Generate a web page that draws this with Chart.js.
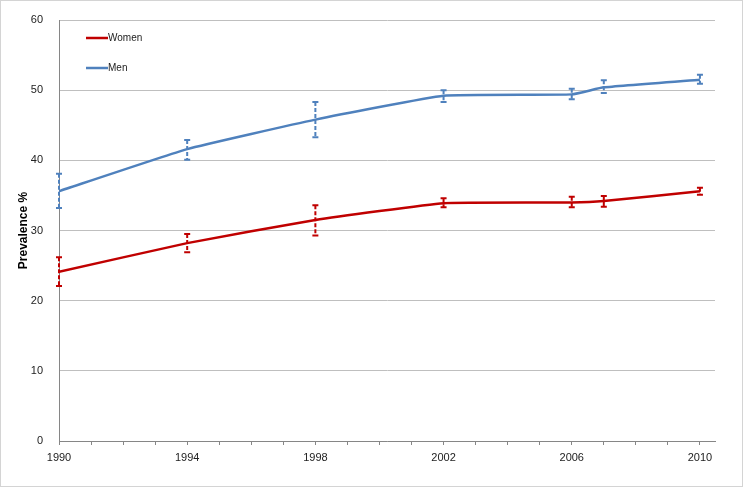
<!DOCTYPE html>
<html>
<head>
<meta charset="utf-8">
<script src="https://cdn.jsdelivr.net/npm/chart.js@4.4.1/dist/chart.umd.min.js"></script>
<style>
  html, body { margin: 0; padding: 0; background: #fff; }
  #wrap { position: relative; width: 741px; height: 485px; border: 1px solid #d4d4d4; }
</style>
</head>
<body>
<div id="wrap"><canvas id="c" width="741" height="485"></canvas></div>
<script>
const years      = [1990, 1994, 1998, 2002, 2006, 2007, 2010];
const women      = [24.1, 28.2, 31.5, 33.9, 34.0, 34.2, 35.6];
const womenLow   = [22.1, 26.9, 29.3, 33.3, 33.3, 33.4, 35.1];
const womenHigh  = [26.2, 29.5, 33.6, 34.6, 34.8, 34.9, 36.1];
const men        = [35.6, 41.6, 45.8, 49.2, 49.4, 50.4, 51.5];
const menLow     = [33.2, 40.1, 43.3, 48.3, 48.7, 49.6, 50.9];
const menHigh    = [38.1, 42.9, 48.3, 50.0, 50.2, 51.4, 52.2];
const xLabels    = [1990, 1994, 1998, 2002, 2006, 2010];
const yTicks     = [0, 10, 20, 30, 40, 50, 60];

const RED = '#c00000';
const BLUE = '#4f81bd';
const FONT = '"Liberation Sans", Arial, sans-serif';

const pts = (vals) => years.map((y, i) => ({ x: y, y: vals[i] }));

// dashed error bars with caps, drawn through the chart's scales
const errorBars = {
  id: 'errorBars',
  afterDatasetsDraw(chart) {
    const { ctx, scales: { x, y } } = chart;
    chart.data.datasets.forEach(ds => {
      ctx.save();
      ctx.strokeStyle = ds.borderColor;
      ds.errLow.forEach((lo, i) => {
        const px = x.getPixelForValue(years[i]);
        const y1 = y.getPixelForValue(ds.errHigh[i]);
        const y2 = y.getPixelForValue(lo);
        ctx.lineWidth = 2;
        ctx.setLineDash([4, 2]);
        ctx.beginPath(); ctx.moveTo(px, y1); ctx.lineTo(px, y2); ctx.stroke();
        ctx.setLineDash([]);
        ctx.beginPath();
        ctx.moveTo(px - 3, y1); ctx.lineTo(px + 3, y1);
        ctx.moveTo(px - 3, y2); ctx.lineTo(px + 3, y2);
        ctx.stroke();
      });
      ctx.restore();
    });
  }
};

// legend inside the plot, top-left
const innerLegend = {
  id: 'innerLegend',
  afterDraw(chart) {
    const ctx = chart.ctx;
    ctx.save();
    ctx.font = '10px ' + FONT;
    ctx.textBaseline = 'middle';
    chart.data.datasets.forEach((ds, i) => {
      const yy = 37 + i * 30;
      ctx.strokeStyle = ds.borderColor;
      ctx.lineWidth = 2.5;
      ctx.beginPath(); ctx.moveTo(85, yy); ctx.lineTo(107, yy); ctx.stroke();
      ctx.fillStyle = '#222';
      ctx.fillText(ds.label, 107, yy);
    });
    ctx.restore();
  }
};

new Chart(document.getElementById('c'), {
  type: 'line',
  data: {
    datasets: [
      { label: 'Women', data: pts(women), errLow: womenLow, errHigh: womenHigh,
        borderColor: RED, backgroundColor: RED, borderWidth: 2.5, pointRadius: 0, tension: 0.12 },
      { label: 'Men', data: pts(men), errLow: menLow, errHigh: menHigh,
        borderColor: BLUE, backgroundColor: BLUE, borderWidth: 2.5, pointRadius: 0, tension: 0.12 }
    ]
  },
  options: {
    responsive: false,
    animation: false,
    layout: { padding: { left: 15, right: 27, top: 19, bottom: 0 } },
    plugins: { legend: { display: false }, tooltip: { enabled: false } },
    scales: {
      x: {
        type: 'linear',
        min: 1990, max: 2010.47,
        afterBuildTicks: (axis) => { axis.ticks = []; for (let v = 1990; v <= 2010; v++) axis.ticks.push({ value: v }); },
        afterFit: (s) => { s.height = 45; },
        border: { color: '#868686', width: 1 },
        grid: { drawOnChartArea: false, drawTicks: true, tickLength: 4, color: '#868686' },
        ticks: {
          autoSkip: false, maxRotation: 0, color: '#222', padding: 6,
          font: { family: FONT, size: 11 },
          callback: (v) => xLabels.includes(v) ? String(v) : ''
        }
      },
      y: {
        min: 0, max: 60,
        afterBuildTicks: (axis) => { axis.ticks = yTicks.map(v => ({ value: v })); },
        afterFit: (s) => { s.width = 43; s.paddingTop = 0; s.paddingBottom = 0; },
        border: { color: '#868686', width: 1 },
        grid: { color: '#bfbfbf', drawTicks: false },
        ticks: { color: '#222', padding: 16, font: { family: FONT, size: 11 } },
        title: { display: true, text: 'Prevalence %', color: '#000', padding: 0,
                 font: { family: FONT, size: 12, weight: 'bold' } }
      }
    }
  },
  plugins: [errorBars, innerLegend]
});
</script>
</body>
</html>
